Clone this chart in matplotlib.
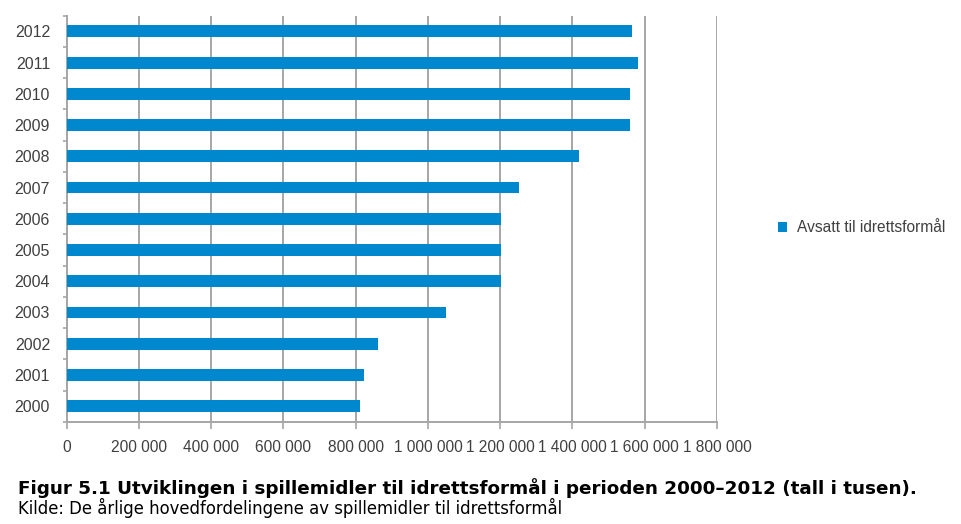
#Spillemidler til idrettsformål 2000-2012 (tall i tusen)
import numpy as np
import matplotlib.pyplot as plt
from matplotlib.ticker import FuncFormatter

#data
years = ['2000', '2001', '2002', '2003', '2004', '2005', '2006',
         '2007', '2008', '2009', '2010', '2011', '2012']
avsatt = [812500, 823500, 861500, 1051000, 1203000, 1203000, 1203000,
          1252000, 1419000, 1560000, 1560000, 1581000, 1565000]
x_ticks = [0, 200000, 400000, 600000, 800000, 1000000, 1200000, 1400000, 1600000, 1800000]

bar_color = '#0088ce'
grid_color = '#a6a6a6'
label_color = '#404040'

plt.rcParams['font.family'] = ['Liberation Sans', 'DejaVu Sans']

fig = plt.figure(figsize=(9.61, 5.24), dpi=100)
ax = fig.add_axes([0.0694, 0.195, 0.6767, 0.775])

ypos = np.arange(len(years))
ax.barh(ypos, avsatt, height=0.38, color=bar_color, label='Avsatt til idrettsformål', zorder=3)

#format axes
ax.set_xlim(0, 1800000)
ax.set_ylim(-0.5, len(years) - 0.5)
ax.set_xticks(x_ticks)
ax.xaxis.set_major_formatter(FuncFormatter(lambda v, p: f'{int(v):,}'.replace(',', ' ')))
ax.set_yticks(ypos)
ax.set_yticklabels(years)
ax.set_yticks(np.arange(-0.5, len(years)), minor=True)

ax.grid(axis='x', color=grid_color, linewidth=1.4, zorder=0)
for side in ['top', 'right']:
    ax.spines[side].set_visible(False)
for side in ['left', 'bottom']:
    ax.spines[side].set_color(grid_color)
    ax.spines[side].set_linewidth(1.4)

ax.tick_params(axis='x', length=5, width=1.2, color=grid_color, pad=8,
               labelsize=11.2, labelcolor=label_color)
ax.tick_params(axis='y', which='major', length=0, pad=12,
               labelsize=11.5, labelcolor=label_color)
ax.tick_params(axis='y', which='minor', length=3, width=1.2, color=grid_color)

#legend to the right of the plot
fig.legend(loc='center left', bbox_to_anchor=(0.795, 0.565), frameon=False,
           fontsize=11.2, handlelength=0.6, handleheight=0.6, handletextpad=0.6,
           labelcolor=label_color)

#caption
fig.text(0.019, 0.069, 'Figur 5.1 Utviklingen i spillemidler til idrettsformål i perioden 2000–2012 (tall i tusen).',
         fontsize=13.2, fontweight='bold', family='DejaVu Sans', va='center')
fig.text(0.019, 0.030, 'Kilde: De årlige hovedfordelingene av spillemidler til idrettsformål',
         fontsize=11.9, family='DejaVu Sans', va='center')

plt.savefig('out.png', dpi=100)
